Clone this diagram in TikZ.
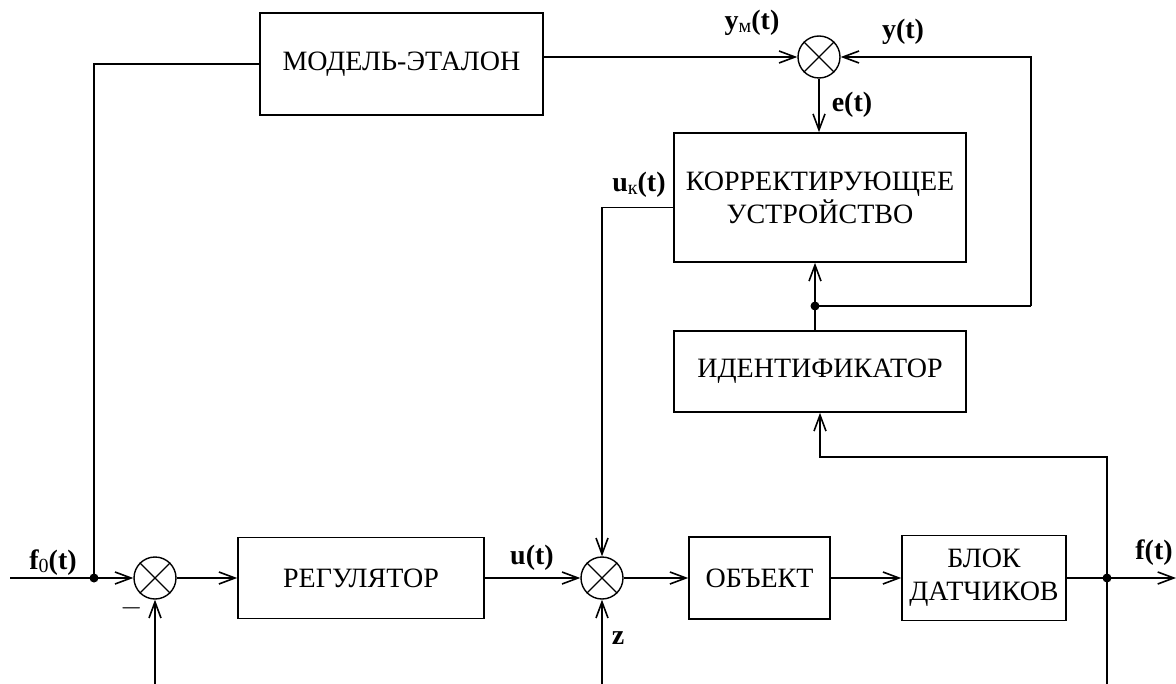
\documentclass[tikz,border=0pt]{standalone}
\usepackage{fontspec}
\setmainfont{Liberation Serif}
\usepackage{tikz}
\usetikzlibrary{arrows.meta,positioning,calc}
\tikzset{
  blk/.style   ={draw,line width=0.8pt,inner sep=2pt,align=center,
                 font=\fontsize{14}{16.5}\selectfont},
  summer/.style={circle,draw,line width=0.7pt,minimum size=21pt,inner sep=0pt},
  lbl/.style   ={inner sep=0pt,font=\fontsize{14}{16}\selectfont\bfseries},
  jdot/.style  ={circle,fill,inner sep=0pt,minimum size=4.5pt},
  flow/.style  ={-{Straight Barb[length=8pt,width=6pt]},line width=0.8pt},
  wire/.style  ={line width=0.8pt}
}
\newcommand{\sub}[1]{\raisebox{-1.5pt}{\mdseries\fontsize{10}{11}\selectfont #1}}
\begin{document}
\begin{tikzpicture}[x=0.5pt,y=-0.5pt]
        \useasboundingbox (0,0) rectangle (1176,684);
        \node[blk,minimum width=141.5pt,minimum height=51pt] (model) at (401.5,64) {МОДЕЛЬ-ЭТАЛОН};
        \node[blk,minimum width=146pt,minimum height=64.5pt] (korr) at (820,197.5) {КОРРЕКТИРУЮЩЕЕ\\УСТРОЙСТВО};
        \node[blk,minimum width=146pt,minimum height=40.5pt] (ident) at (820,371.5) {ИДЕНТИФИКАТОР};
        \node[blk,minimum width=123pt,minimum height=40.5pt] (reg) at (361,578) {РЕГУЛЯТОР};
        \node[blk,minimum width=70.5pt,minimum height=41pt] (obj) at (759.5,578) {ОБЪЕКТ};
        \node[blk,minimum width=82pt,minimum height=42.5pt,inner sep=1pt] (sens) at (984,578) {БЛОК\\ДАТЧИКОВ};
        \node[summer] (s1) at (155,578) {};
        \node[summer] (s2) at (602,578) {};
        \node[summer] (s3) at (819,57) {};
        \foreach \s in {s1,s2,s3}
          \draw[line width=0.6pt] (\s.north west) -- (\s.south east) (\s.north east) -- (\s.south west);
        \coordinate (fin) at (10,578);
        \coordinate (fbr) at (94,578);
        \coordinate (s1in) at (155,684);
        \coordinate (zin) at (602,684);
        \coordinate (fout) at (1176,578);
        \coordinate (obr) at (1107,578);
        \coordinate (obot) at (1107,684);
        \coordinate (yturn) at (1031,306);
        \coordinate (ybr) at (815,306);
        \node[jdot] at (fbr) {};
        \node[jdot] at (obr) {};
        \node[jdot] at (ybr) {};
        \draw[flow] (fin) -- (s1);
        \draw[wire] (fbr) |- (model.west);
        \draw[flow] (s1in) -- (s1);
        \draw[flow] (s1) -- (reg);
        \draw[flow] (reg) -- (s2);
        \draw[flow] (zin) -- (s2);
        \draw[flow] (s2) -- (obj);
        \draw[flow] (obj) -- (sens);
        \draw[flow] (sens) -- (fout);
        \draw[flow] (obot) |- ([yshift=-22pt]ident.south) -- (ident.south);
        \draw[flow] (model.east |- s3) -- (s3);
        \draw[flow] (yturn) |- (s3);
        \draw[wire] (yturn) -- (ybr);
        \draw[flow] (ident.north -| ybr) -- (korr.south -| ybr);
        \draw[flow] (s3) -- (s3 |- korr.north);
        \draw[flow] ([yshift=-5pt]korr.west) -| (s2);
        \node[lbl] at (53,563) {f\sub{0}(t)};
        \node[lbl] at (132,608) {$-$};
        \node[lbl] at (532,558) {u(t)};
        \node[lbl] at (618,638) {z};
        \node[lbl] at (1154,553) {f(t)};
        \node[lbl] at (752,23) {y\sub{м}(t)};
        \node[lbl] at (903,32) {y(t)};
        \node[lbl] at (852,105) {e(t)};
        \node[lbl] at (639,185) {u\sub{к}(t)};
      \end{tikzpicture}
\end{document}
